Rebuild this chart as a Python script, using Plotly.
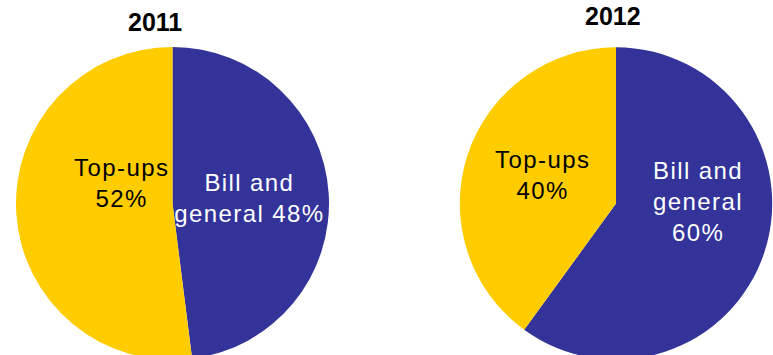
import plotly.graph_objects as go

# Mobile payments split by purpose, two years
years = ["2011", "2012"]
categories = ["Bill and general", "Top-ups"]
shares_2011 = [48, 52]
shares_2012 = [60, 40]
colors = ["#333399", "#FFCC00"]
text_colors = ["white", "black"]

W, H = 773, 366
FONT = "Liberation Sans, Arial, sans-serif"


def dom_x(cx, r):
    return [(cx - r) / W, (cx + r) / W]


def dom_y(cy, r):
    return [(H - (cy + r)) / H, (H - (cy - r)) / H]


fig = go.Figure()

pies = [
    (shares_2011, 172.5, 203.5, 156.5),
    (shares_2012, 616.0, 203.5, 156.2),
]
for vals, cx, cy, r in pies:
    fig.add_trace(go.Pie(
        labels=categories,
        values=vals,
        sort=False,
        direction="clockwise",
        rotation=0,
        marker=dict(colors=colors, line=dict(width=0)),
        textinfo="none",
        hoverinfo="label+percent",
        showlegend=False,
        domain=dict(x=dom_x(cx, r), y=dom_y(cy, r)),
    ))

annotations = []
# year titles
for year, cx, cy in [(years[0], 155, 22), (years[1], 612.5, 16.5)]:
    annotations.append(dict(
        text=f"<b>{year}</b>", x=cx / W, y=(H - cy) / H,
        xref="paper", yref="paper", showarrow=False,
        font=dict(family=FONT, size=25, color="black"),
        xanchor="center", yanchor="middle",
    ))

# slice labels: (text, centre x px, centre y px, colour)
label_specs = [
    (f"Top-ups<br>{shares_2011[1]}%", 121, 183, text_colors[1]),
    (f"Bill and<br>general {shares_2011[0]}%", 250, 198, text_colors[0]),
    (f"Top-ups<br>{shares_2012[1]}%", 542, 175, text_colors[1]),
    (f"Bill and<br>general<br>{shares_2012[0]}%", 698, 201, text_colors[0]),
]
for txt, x, y, c in label_specs:
    annotations.append(dict(
        text=txt, x=x / W, y=(H - y) / H,
        xref="paper", yref="paper", showarrow=False,
        font=dict(family=FONT, size=24, color=c),
        xanchor="center", yanchor="middle", align="center",
    ))

fig.update_layout(
    width=W, height=H, autosize=False,
    margin=dict(l=0, r=0, t=0, b=0, pad=0),
    paper_bgcolor="white", plot_bgcolor="white",
    annotations=annotations,
)

# widen the tracking of the slice labels a little
post = """
document.documentElement.style.overflow='hidden';
document.body.style.overflow='hidden';
document.body.style.margin='0';
function spaceLabels(){
  document.querySelectorAll('.annotation-text').forEach(function(t){
    if(!/^20\\d\\d$/.test(t.textContent.trim())){ t.style.letterSpacing='1.4px'; }
  });
}
spaceLabels();
var gd = document.getElementById('{plot_id}');
if (gd && gd.on) { gd.on('plotly_afterplot', spaceLabels); }
"""

fig.write_html("out.html", config={"displayModeBar": False}, post_script=post)
